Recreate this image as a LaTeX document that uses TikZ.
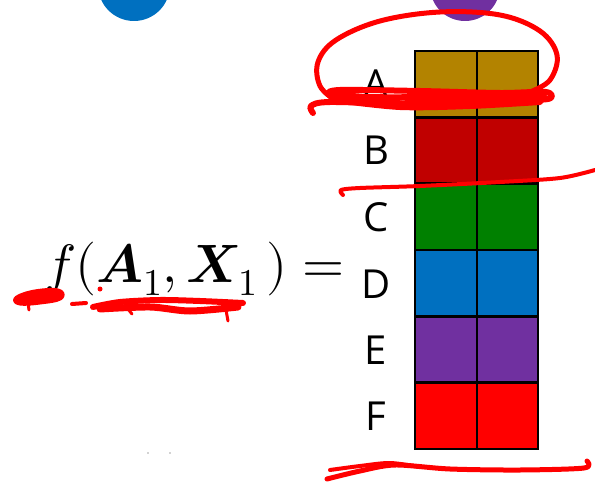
\documentclass[tikz,border=0pt]{standalone}
\usepackage{fontspec}
\usepackage{unicode-math}
\setmathfont{Latin Modern Math}
\newfontfamily\labelfont{Open Sans}
\definecolor{cgold}{HTML}{B38300}
\definecolor{cdred}{HTML}{C00000}
\definecolor{cgreen}{HTML}{008000}
\definecolor{cblue}{HTML}{0070C0}
\definecolor{cpurple}{HTML}{7030A0}
\definecolor{cred}{HTML}{FF0000}
\tikzset{
  cell/.style={draw=black, line width=2.4pt},
  rowlabel/.style={font=\labelfont\fontsize{40}{46}\selectfont, anchor=center, inner sep=0pt},
  ink/.style={draw=cred, line width=5pt, line cap=round, line join=round},
}
\begin{document}
\begin{tikzpicture}[x=1pt,y=-1pt]
\useasboundingbox (0,0) rectangle (595,487);
% circles at top
\fill[cblue] (134,-15) circle (36);
\fill[cpurple] (465,-14) circle (35);
% grid
\foreach \c [count=\i from 0] in {cgold,cdred,cgreen,cblue,cpurple,cred}{
  \pgfmathsetmacro{\ytop}{51+66.33*\i}
  \pgfmathsetmacro{\ybot}{51+66.33*(\i+1)}
  \fill[\c] (415,\ytop) rectangle (538,\ybot);
}
\foreach \i in {1,...,5}{
  \pgfmathsetmacro{\yy}{51+66.33*\i}
  \draw[black, line width=2.4pt] (415,\yy) -- (538,\yy);
}
\draw[black, line width=2.4pt] (477,51) -- (477,449);
\draw[cell] (415,51) rectangle (538,449);
% labels
\node[rowlabel] (la) at (376,84) {A};
\node[rowlabel] (lb) at (376,150) {B};
\node[rowlabel] (lc) at (376,217) {C};
\node[rowlabel] (ld) at (376,284) {D};
\node[rowlabel] (le) at (376,350) {E};
\node[rowlabel] (lf) at (376,416) {F};
% formula
\node[anchor=base west, inner sep=0pt, font=\fontsize{54}{62}\selectfont] (formula) at (44,282)
  {$f(\symbfit{A}_1,\symbfit{X}_1\,)=$};
% tiny dots
\fill[gray!70] (148,453) circle (0.9);
\fill[gray!70] (170,453) circle (0.9);
% red ink: loop around A
\draw[ink] plot[smooth, tension=0.6] coordinates {(336,101) (320,86) (318,62) (336,40) (380,21) (440,12) (500,15) (540,31) (557,55) (550,80) (530,92)};
\draw[ink, line width=6pt] plot[smooth, tension=0.5] coordinates {(313,113) (311,106) (330,102) (420,104) (500,101) (548,99) (546,92) (500,93) (420,91) (340,90) (330,94) (360,97) (440,97) (540,95)};
\draw[ink, line width=6pt] plot[smooth, tension=0.5] coordinates {(335,100) (400,107) (470,106) (540,102)};
\draw[ink, line width=4pt] plot[smooth, tension=0.5] coordinates {(340,94) (410,99) (480,100) (545,96)};
% red ink: line between B and C
\draw[ink, line width=4pt] plot[smooth, tension=0.5] coordinates {(343,195) (341,190) (360,188) (420,186) (500,182) (560,178) (595,170)};
% red ink: bottom
\draw[ink] plot[smooth, tension=0.5] coordinates {(327,479) (360,471) (395,465) (450,469) (520,470) (584,468) (587,461)};
\draw[ink, line width=4pt] plot[smooth, tension=0.5] coordinates {(330,470) (360,466) (390,463) (420,467)};
% red ink: under formula
\draw[ink, fill=cred] plot[smooth cycle, tension=0.7] coordinates {(17,298) (35,292) (58,291) (60,298) (40,302) (20,303)};
\draw[ink, line width=3pt] (28,303) -- (29,310);
\draw[ink, line width=3pt] (54,293) -- (56,300);
\draw[ink, line width=4pt] (72,304) -- (86,303);
\draw[ink, line width=6pt] plot[smooth, tension=0.5] coordinates {(93,307) (120,302) (160,300) (200,301) (243,303)};
\draw[ink, line width=7pt] plot[smooth, tension=0.5] coordinates {(100,309) (150,307) (190,311) (238,307)};
\draw[ink, line width=3pt] (128,309) -- (132,314);
\draw[ink, line width=3pt] (226,310) -- (228,321);
\fill[cred] (100,289) circle (2.5);
\end{tikzpicture}
\end{document}
